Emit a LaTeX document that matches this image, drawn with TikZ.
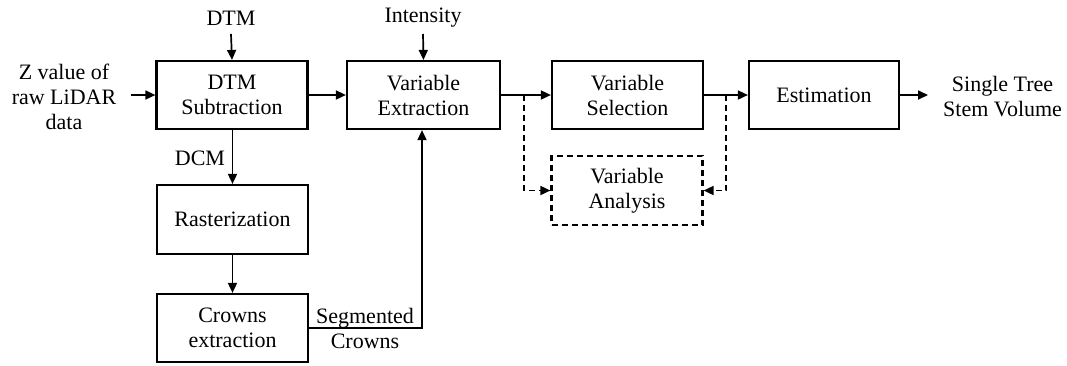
\documentclass[tikz,border=0pt]{standalone}
\usepackage{fontspec}
\setmainfont{Liberation Serif}
\usetikzlibrary{arrows.meta}
\begin{document}
\begin{tikzpicture}[x=1pt,y=-1pt,
  font=\fontsize{22}{25}\selectfont,
  box/.style={draw,line width=2.2pt,minimum width=151pt,minimum height=68pt,align=center,inner sep=0pt},
  dbox/.style={box,dash pattern=on 6pt off 4pt},
  lbl/.style={align=center,inner sep=0pt},
  arr/.style={line width=1.7pt,-{Triangle[length=10pt,width=9pt]}},
  darr/.style={arr,dash pattern=on 6pt off 4pt}]
\useasboundingbox (0,0) rectangle (1067,365);
\node[box] (dtms) at (232,95) {DTM\\Subtraction};
\node[box,minimum width=153pt] (vext) at (423.5,95) {Variable\\Extraction};
\node[box] (vsel) at (627.5,95) {Variable\\Selection};
\node[box,minimum width=150pt] (est) at (824,95) {Estimation};
\node[dbox,minimum height=69pt] (vana) at (627,190.5) {Variable\\Analysis};
\node[box,minimum height=69pt] (rast) at (232.5,219.5) {Rasterization};
\node[box] (crown) at (232.5,328) {Crowns\\extraction};
\node[lbl] (dtm) at (231,18) {DTM};
\node[lbl] (int) at (423,18) {Intensity};
\node[lbl] (z) at (64,97) {Z value of\\raw LiDAR\\data};
\node[lbl,anchor=west] (out) at (943,97) {Single Tree\\Stem Volume};
\node[lbl] (dcm) at (200,158) {DCM};
\node[lbl] (seg) at (365,328) {Segmented\\Crowns};
\coordinate (dtmb) at (231,34);
\coordinate (intb) at (423,34);
\coordinate (zr) at (131,95);
\coordinate (sp1) at (524,95);
\coordinate (sp2) at (726,95);
\coordinate (segc) at (422,328);
\coordinate (outc) at (928,95);
\draw[arr] (dtmb) -- (dtms.north);
\draw[arr] (intb) -- (vext.north);
\draw[arr] (zr) -- (dtms.west);
\draw[arr] (dtms) -- (vext);
\draw[arr] (vext) -- (vsel);
\draw[arr] (vsel) -- (est);
\draw[arr] (est.east) -- (outc);
\draw[arr] (dtms.south -| rast.north) -- (rast.north);
\draw[arr] (rast) -- (crown);
\draw[arr] (crown.east) -- (segc) -- (segc |- vext.south);
\draw[darr] (sp1) -- (sp1 |- vana) -- (vana.west);
\draw[darr] (sp2) -- (sp2 |- vana) -- (vana.east);
\end{tikzpicture}
\end{document}
